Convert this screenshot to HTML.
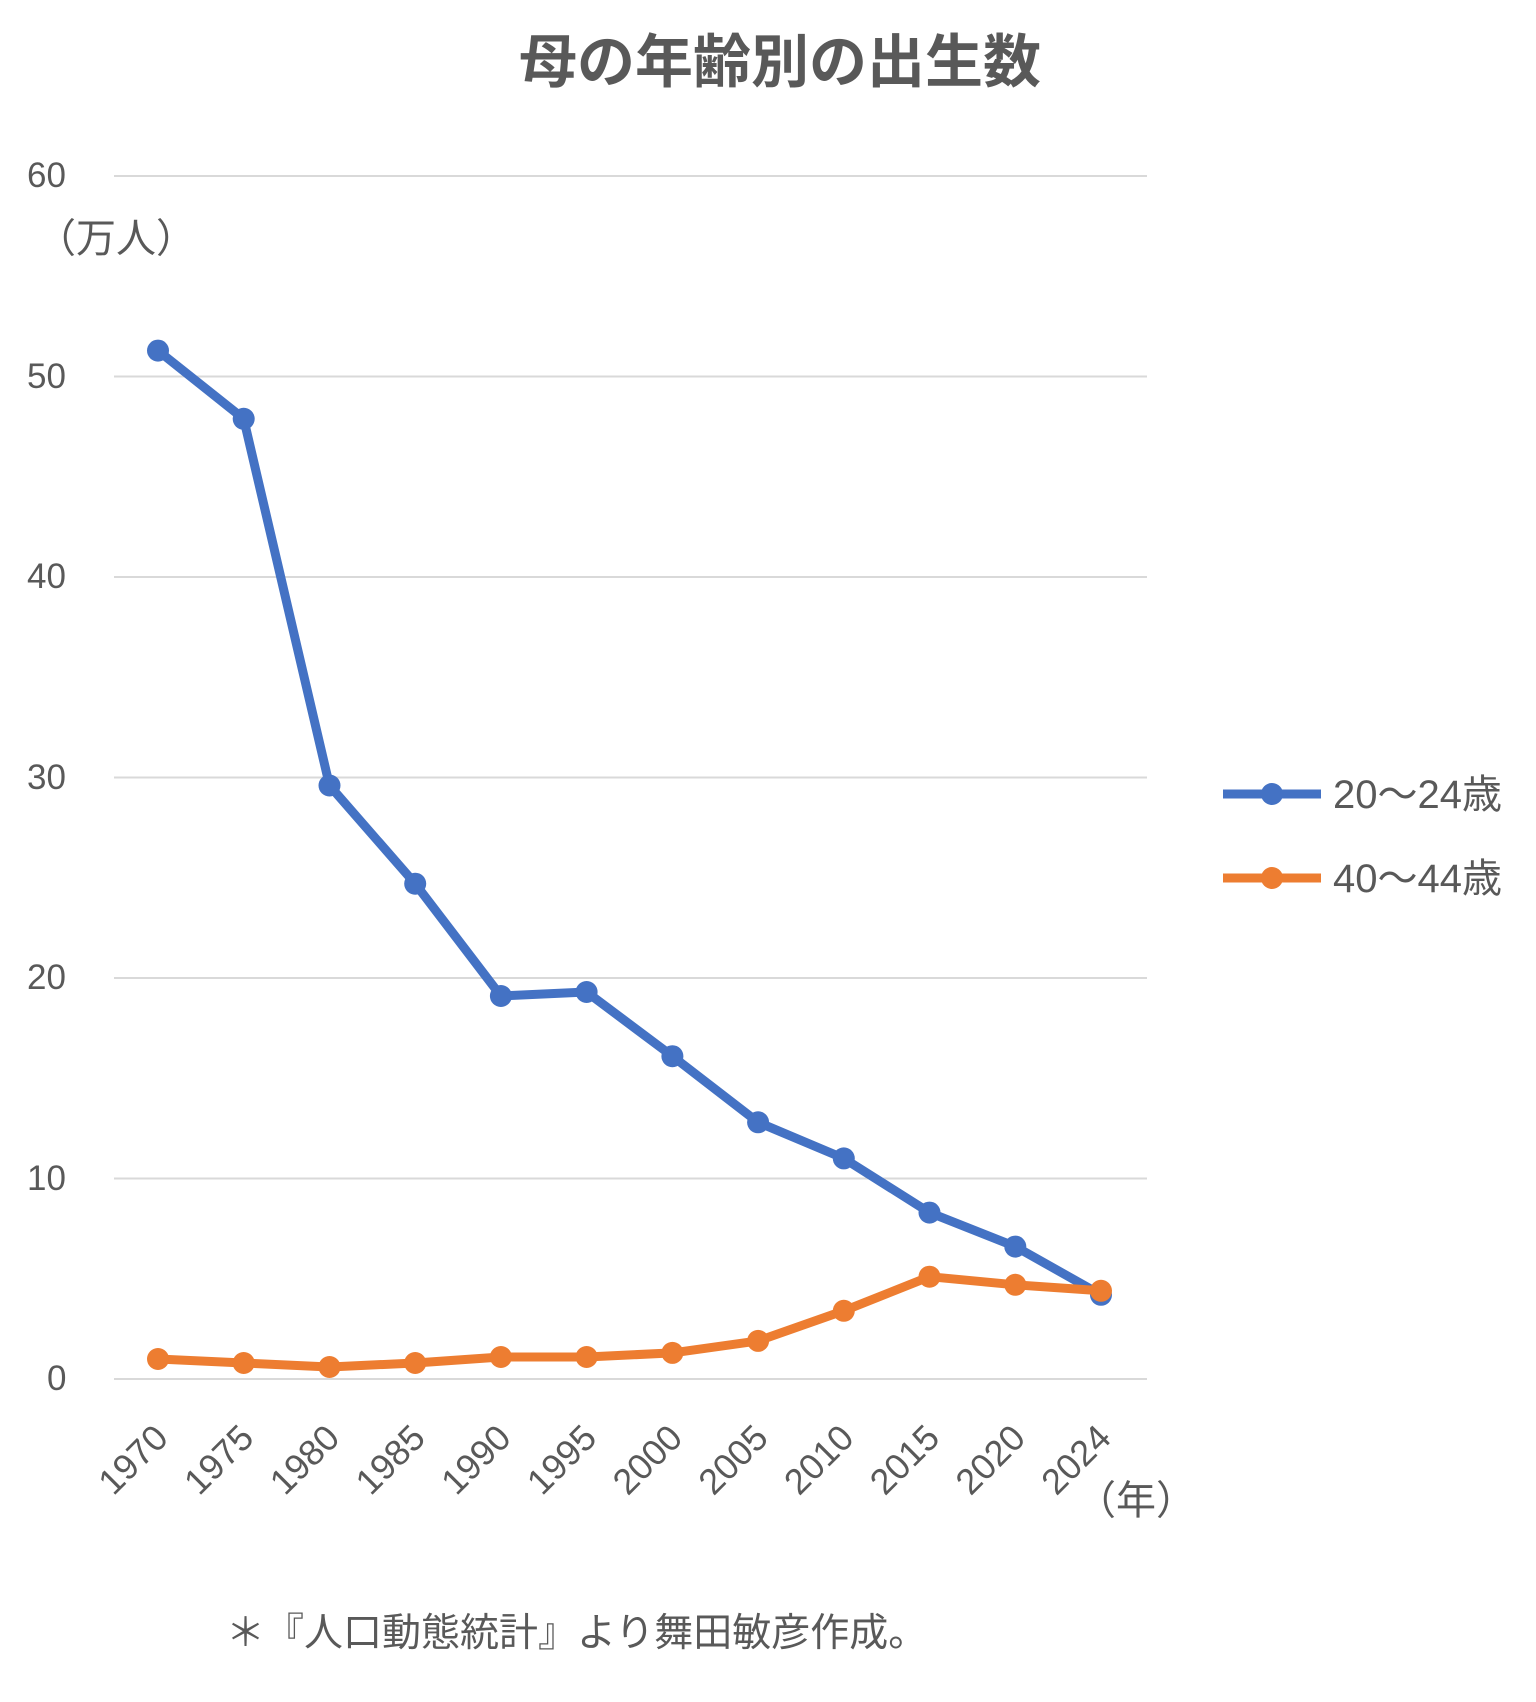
<!DOCTYPE html>
<html><head><meta charset="utf-8"><style>
body{margin:0;background:#fff}
svg text{font-family:"Liberation Sans","Noto Sans CJK JP",sans-serif;fill:#595959}
</style></head><body>
<svg width="1536" height="1697" xmlns="http://www.w3.org/2000/svg">
<text x="780" y="82" text-anchor="middle" font-size="58" font-weight="bold" fill="#5a5a5a">母の年齢別の出生数</text>
<g stroke="#d9d9d9" stroke-width="2">
<line x1="114" x2="1147" y1="176" y2="176"/>
<line x1="114" x2="1147" y1="376.5" y2="376.5"/>
<line x1="114" x2="1147" y1="577" y2="577"/>
<line x1="114" x2="1147" y1="777.5" y2="777.5"/>
<line x1="114" x2="1147" y1="978" y2="978"/>
<line x1="114" x2="1147" y1="1178.5" y2="1178.5"/>
<line x1="114" x2="1147" y1="1379" y2="1379"/>
</g>
<g font-size="35">
<text x="27" y="187">60</text>
<text x="27" y="388">50</text>
<text x="27" y="588">40</text>
<text x="27" y="789">30</text>
<text x="27" y="989">20</text>
<text x="27" y="1190">10</text>
<text x="47" y="1390">0</text>
<text x="36" y="252" font-size="40">（万人）</text>
</g>
<polyline fill="none" stroke="#4472c4" stroke-width="9" stroke-linejoin="round" points="158,350.6 243.7,418.8 329.5,785.5 415.2,883.7 500.9,996 586.6,992 672.4,1056.2 758.1,1122.3 843.8,1158.4 929.5,1212.6 1015.3,1246.6 1101,1294.8"/>
<g fill="#4472c4">
<circle cx="158" cy="350.6" r="11"/><circle cx="243.7" cy="418.8" r="11"/><circle cx="329.5" cy="785.5" r="11"/><circle cx="415.2" cy="883.7" r="11"/><circle cx="500.9" cy="996" r="11"/><circle cx="586.6" cy="992" r="11"/><circle cx="672.4" cy="1056.2" r="11"/><circle cx="758.1" cy="1122.3" r="11"/><circle cx="843.8" cy="1158.4" r="11"/><circle cx="929.5" cy="1212.6" r="11"/><circle cx="1015.3" cy="1246.6" r="11"/><circle cx="1101" cy="1294.8" r="11"/>
</g>
<polyline fill="none" stroke="#ed7d31" stroke-width="9" stroke-linejoin="round" points="158,1359 243.7,1363 329.5,1367 415.2,1363 500.9,1357 586.6,1357 672.4,1352.9 758.1,1340.9 843.8,1310.8 929.5,1276.7 1015.3,1284.8 1101,1290.8"/>
<g fill="#ed7d31">
<circle cx="158" cy="1359" r="11"/><circle cx="243.7" cy="1363" r="11"/><circle cx="329.5" cy="1367" r="11"/><circle cx="415.2" cy="1363" r="11"/><circle cx="500.9" cy="1357" r="11"/><circle cx="586.6" cy="1357" r="11"/><circle cx="672.4" cy="1352.9" r="11"/><circle cx="758.1" cy="1340.9" r="11"/><circle cx="843.8" cy="1310.8" r="11"/><circle cx="929.5" cy="1276.7" r="11"/><circle cx="1015.3" cy="1284.8" r="11"/><circle cx="1101" cy="1290.8" r="11"/>
</g>
<g font-size="36" text-anchor="end">
<text transform="translate(170,1440) rotate(-45)">1970</text>
<text transform="translate(255.7,1440) rotate(-45)">1975</text>
<text transform="translate(341.5,1440) rotate(-45)">1980</text>
<text transform="translate(427.2,1440) rotate(-45)">1985</text>
<text transform="translate(512.9,1440) rotate(-45)">1990</text>
<text transform="translate(598.6,1440) rotate(-45)">1995</text>
<text transform="translate(684.4,1440) rotate(-45)">2000</text>
<text transform="translate(770.1,1440) rotate(-45)">2005</text>
<text transform="translate(855.8,1440) rotate(-45)">2010</text>
<text transform="translate(941.5,1440) rotate(-45)">2015</text>
<text transform="translate(1027.3,1440) rotate(-45)">2020</text>
<text transform="translate(1113,1440) rotate(-45)">2024</text>
</g>
<text x="1076" y="1514" font-size="40">（年）</text>
<line x1="1223" x2="1321" y1="794" y2="794" stroke="#4472c4" stroke-width="9"/>
<circle cx="1272" cy="794" r="11" fill="#4472c4"/>
<text x="1333" y="808" font-size="40">20〜24歳</text>
<line x1="1223" x2="1321" y1="878" y2="878" stroke="#ed7d31" stroke-width="9"/>
<circle cx="1272" cy="878" r="11" fill="#ed7d31"/>
<text x="1333" y="892" font-size="40">40〜44歳</text>
<text x="226" y="1646" font-size="39" fill="#404040">＊『人口動態統計』より舞田敏彦作成。</text>
</svg>
</body></html>
